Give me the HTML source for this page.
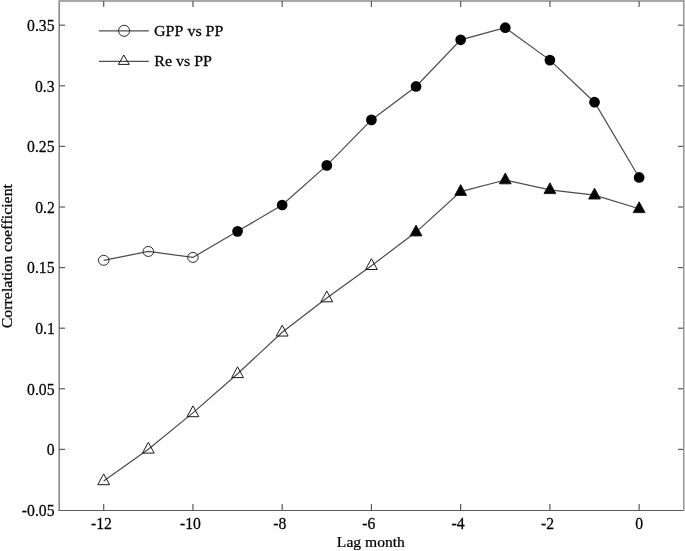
<!DOCTYPE html>
<html><head><meta charset="utf-8"><style>
html,body{margin:0;padding:0;background:#fff;}
body{width:685px;height:551px;overflow:hidden;}
svg{display:block;will-change:transform;}
text{font-family:"Liberation Serif",serif;fill:#000;stroke:#000;stroke-width:0.25px;font-kerning:none;}

</style></head><body>
<svg width="685" height="551" viewBox="0 0 685 551">
<rect width="685" height="551" fill="#fff"/>
<line x1="59.2" y1="0" x2="59.2" y2="511" stroke="#7a7a7a" stroke-width="1.4"/>
<line x1="58.5" y1="510.5" x2="685" y2="510.5" stroke="#5a5a5a" stroke-width="1.2"/>
<rect x="59" y="0" width="626" height="2" fill="#a8a8a8"/>
<rect x="683" y="0" width="1" height="511" fill="#9a9a9a"/>
<rect x="684" y="0" width="1" height="511" fill="#c5c5c5"/>
<line x1="103.70" y1="504" x2="103.70" y2="510" stroke="#5a5a5a" stroke-width="1.2"/>
<line x1="103.70" y1="1" x2="103.70" y2="7" stroke="#5a5a5a" stroke-width="1.2"/>
<line x1="192.94" y1="504" x2="192.94" y2="510" stroke="#5a5a5a" stroke-width="1.2"/>
<line x1="192.94" y1="1" x2="192.94" y2="7" stroke="#5a5a5a" stroke-width="1.2"/>
<line x1="282.18" y1="504" x2="282.18" y2="510" stroke="#5a5a5a" stroke-width="1.2"/>
<line x1="282.18" y1="1" x2="282.18" y2="7" stroke="#5a5a5a" stroke-width="1.2"/>
<line x1="371.42" y1="504" x2="371.42" y2="510" stroke="#5a5a5a" stroke-width="1.2"/>
<line x1="371.42" y1="1" x2="371.42" y2="7" stroke="#5a5a5a" stroke-width="1.2"/>
<line x1="460.66" y1="504" x2="460.66" y2="510" stroke="#5a5a5a" stroke-width="1.2"/>
<line x1="460.66" y1="1" x2="460.66" y2="7" stroke="#5a5a5a" stroke-width="1.2"/>
<line x1="549.90" y1="504" x2="549.90" y2="510" stroke="#5a5a5a" stroke-width="1.2"/>
<line x1="549.90" y1="1" x2="549.90" y2="7" stroke="#5a5a5a" stroke-width="1.2"/>
<line x1="639.14" y1="504" x2="639.14" y2="510" stroke="#5a5a5a" stroke-width="1.2"/>
<line x1="639.14" y1="1" x2="639.14" y2="7" stroke="#5a5a5a" stroke-width="1.2"/>
<line x1="59" y1="449.40" x2="65" y2="449.40" stroke="#5a5a5a" stroke-width="1.2"/>
<line x1="678" y1="449.40" x2="683" y2="449.40" stroke="#5a5a5a" stroke-width="1.2"/>
<line x1="59" y1="388.80" x2="65" y2="388.80" stroke="#5a5a5a" stroke-width="1.2"/>
<line x1="678" y1="388.80" x2="683" y2="388.80" stroke="#5a5a5a" stroke-width="1.2"/>
<line x1="59" y1="328.20" x2="65" y2="328.20" stroke="#5a5a5a" stroke-width="1.2"/>
<line x1="678" y1="328.20" x2="683" y2="328.20" stroke="#5a5a5a" stroke-width="1.2"/>
<line x1="59" y1="267.60" x2="65" y2="267.60" stroke="#5a5a5a" stroke-width="1.2"/>
<line x1="678" y1="267.60" x2="683" y2="267.60" stroke="#5a5a5a" stroke-width="1.2"/>
<line x1="59" y1="207.00" x2="65" y2="207.00" stroke="#5a5a5a" stroke-width="1.2"/>
<line x1="678" y1="207.00" x2="683" y2="207.00" stroke="#5a5a5a" stroke-width="1.2"/>
<line x1="59" y1="146.40" x2="65" y2="146.40" stroke="#5a5a5a" stroke-width="1.2"/>
<line x1="678" y1="146.40" x2="683" y2="146.40" stroke="#5a5a5a" stroke-width="1.2"/>
<line x1="59" y1="85.80" x2="65" y2="85.80" stroke="#5a5a5a" stroke-width="1.2"/>
<line x1="678" y1="85.80" x2="683" y2="85.80" stroke="#5a5a5a" stroke-width="1.2"/>
<line x1="59" y1="25.20" x2="65" y2="25.20" stroke="#5a5a5a" stroke-width="1.2"/>
<line x1="678" y1="25.20" x2="683" y2="25.20" stroke="#5a5a5a" stroke-width="1.2"/>
<polyline points="103.70,260.30 148.32,251.45 192.94,257.40 237.56,231.35 282.18,205.00 326.80,165.40 371.42,119.90 416.04,86.45 460.66,39.80 505.28,27.70 549.90,60.10 594.52,102.20 639.14,177.45" fill="none" stroke="#4a4a4a" stroke-width="1.2"/>
<polyline points="103.70,480.90 148.32,449.30 192.94,412.90 237.56,373.80 282.18,332.25 326.80,298.00 371.42,265.70 416.04,232.10 460.66,191.60 505.28,180.00 549.90,189.80 594.52,195.20 639.14,208.80" fill="none" stroke="#4a4a4a" stroke-width="1.2"/>
<ellipse cx="103.70" cy="260.30" rx="5.3" ry="5.0" fill="none" stroke="#2a2a2a" stroke-width="1.0"/>
<ellipse cx="148.32" cy="251.45" rx="5.3" ry="5.0" fill="none" stroke="#2a2a2a" stroke-width="1.0"/>
<ellipse cx="192.94" cy="257.40" rx="5.3" ry="5.0" fill="none" stroke="#2a2a2a" stroke-width="1.0"/>
<circle cx="237.56" cy="231.35" r="5.35" fill="#000"/>
<circle cx="282.18" cy="205.00" r="5.35" fill="#000"/>
<circle cx="326.80" cy="165.40" r="5.35" fill="#000"/>
<circle cx="371.42" cy="119.90" r="5.35" fill="#000"/>
<circle cx="416.04" cy="86.45" r="5.35" fill="#000"/>
<circle cx="460.66" cy="39.80" r="5.35" fill="#000"/>
<circle cx="505.28" cy="27.70" r="5.35" fill="#000"/>
<circle cx="549.90" cy="60.10" r="5.35" fill="#000"/>
<circle cx="594.52" cy="102.20" r="5.35" fill="#000"/>
<circle cx="639.14" cy="177.45" r="5.35" fill="#000"/>
<path d="M103.70 473.90 L109.60 484.70 L97.80 484.70 Z" fill="none" stroke="#1a1a1a" stroke-width="1.0" stroke-linejoin="miter"/>
<path d="M148.32 442.30 L154.22 453.10 L142.42 453.10 Z" fill="none" stroke="#1a1a1a" stroke-width="1.0" stroke-linejoin="miter"/>
<path d="M192.94 405.90 L198.84 416.70 L187.04 416.70 Z" fill="none" stroke="#1a1a1a" stroke-width="1.0" stroke-linejoin="miter"/>
<path d="M237.56 366.80 L243.46 377.60 L231.66 377.60 Z" fill="none" stroke="#1a1a1a" stroke-width="1.0" stroke-linejoin="miter"/>
<path d="M282.18 325.25 L288.08 336.05 L276.28 336.05 Z" fill="none" stroke="#1a1a1a" stroke-width="1.0" stroke-linejoin="miter"/>
<path d="M326.80 291.00 L332.70 301.80 L320.90 301.80 Z" fill="none" stroke="#1a1a1a" stroke-width="1.0" stroke-linejoin="miter"/>
<path d="M371.42 258.70 L377.32 269.50 L365.52 269.50 Z" fill="none" stroke="#1a1a1a" stroke-width="1.0" stroke-linejoin="miter"/>
<path d="M416.04 225.10 L421.94 235.90 L410.14 235.90 Z" fill="#000" stroke="#1a1a1a" stroke-width="1.0" stroke-linejoin="miter"/>
<path d="M460.66 184.60 L466.56 195.40 L454.76 195.40 Z" fill="#000" stroke="#1a1a1a" stroke-width="1.0" stroke-linejoin="miter"/>
<path d="M505.28 173.00 L511.18 183.80 L499.38 183.80 Z" fill="#000" stroke="#1a1a1a" stroke-width="1.0" stroke-linejoin="miter"/>
<path d="M549.90 182.80 L555.80 193.60 L544.00 193.60 Z" fill="#000" stroke="#1a1a1a" stroke-width="1.0" stroke-linejoin="miter"/>
<path d="M594.52 188.20 L600.42 199.00 L588.62 199.00 Z" fill="#000" stroke="#1a1a1a" stroke-width="1.0" stroke-linejoin="miter"/>
<path d="M639.14 201.80 L645.04 212.60 L633.24 212.60 Z" fill="#000" stroke="#1a1a1a" stroke-width="1.0" stroke-linejoin="miter"/>
<line x1="98.9" y1="30.9" x2="148.8" y2="30.9" stroke="#505050" stroke-width="1.2"/>
<circle cx="124.1" cy="30.8" r="5.55" fill="none" stroke="#2a2a2a" stroke-width="1.0"/>
<line x1="98.9" y1="61.4" x2="148.8" y2="61.4" stroke="#505050" stroke-width="1.2"/>
<path d="M123.80 55.00 L129.20 64.40 L118.40 64.40 Z" fill="none" stroke="#1a1a1a" stroke-width="1.0" stroke-linejoin="miter"/>
<text style="font-size:16.9px" transform="translate(90.93,529) scale(0.9290,1)">-12</text>
<text style="font-size:16.9px" transform="translate(180.03,529) scale(0.9290,1)">-10</text>
<text style="font-size:16.9px" transform="translate(273.20,529) scale(0.9290,1)">-8</text>
<text style="font-size:16.9px" transform="translate(362.37,529) scale(0.9290,1)">-6</text>
<text style="font-size:16.9px" transform="translate(451.50,529) scale(0.9290,1)">-4</text>
<text style="font-size:16.9px" transform="translate(541.05,529) scale(0.9290,1)">-2</text>
<text style="font-size:16.9px" transform="translate(635.32,529) scale(0.9290,1)">0</text>
<text style="font-size:16.9px" transform="translate(21.86,516) scale(0.9290,1)">-0.05</text>
<text style="font-size:16.9px" transform="translate(46.70,455) scale(0.9290,1)">0</text>
<text style="font-size:16.9px" transform="translate(27.09,395) scale(0.9290,1)">0.05</text>
<text style="font-size:16.9px" transform="translate(35.27,334) scale(0.9290,1)">0.1</text>
<text style="font-size:16.9px" transform="translate(27.09,273) scale(0.9290,1)">0.15</text>
<text style="font-size:16.9px" transform="translate(35.19,213) scale(0.9290,1)">0.2</text>
<text style="font-size:16.9px" transform="translate(27.09,152) scale(0.9290,1)">0.25</text>
<text style="font-size:16.9px" transform="translate(34.94,92) scale(0.9290,1)">0.3</text>
<text style="font-size:16.9px" transform="translate(27.09,31) scale(0.9290,1)">0.35</text>
<text style="font-size:15.6px" transform="translate(154.04,36) scale(1.0256,1)">GPP vs PP</text>
<text style="font-size:15.6px" transform="translate(154.24,66) scale(1.0256,1)">Re vs PP</text>
<text style="font-size:15.4px" transform="translate(336.87,547) scale(1.0130,1)">Lag month</text>
<text style="font-size:15.3px" transform="translate(12,328.26) rotate(-90) scale(1.0392,1)">Correlation coefficient</text>
</svg>
</body></html>
